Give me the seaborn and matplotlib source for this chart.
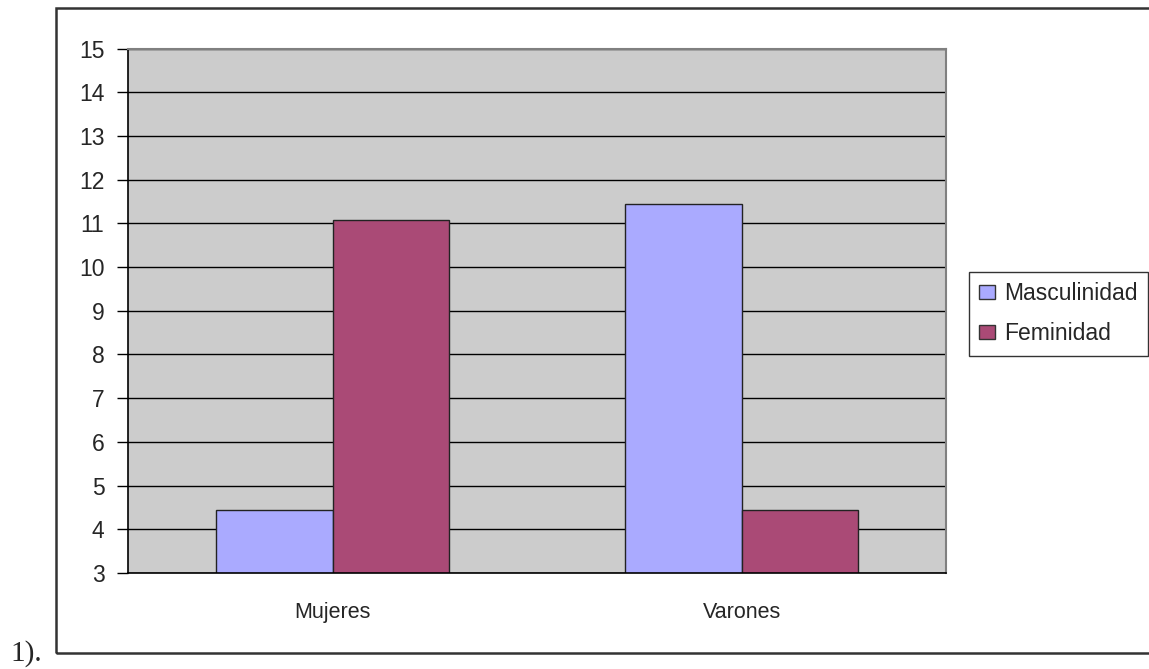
import matplotlib
matplotlib.use("Agg")
import matplotlib.pyplot as plt
import matplotlib.patches as mpatches
import pandas as pd
import seaborn as sns

categorias = ["Mujeres", "Varones"]
masculinidad = [4.45, 11.44]
feminidad = [11.08, 4.45]
series = ["Masculinidad", "Feminidad"]
colores = ["#aaaaff", "#aa4a76"]
yticks = list(range(3, 16))

df = pd.DataFrame({
    "grupo": categorias * 2,
    "rasgo": [series[0]] * 2 + [series[1]] * 2,
    "valor": masculinidad + feminidad,
})

sns.set_style("white")
plt.rcParams["font.family"] = ["Liberation Sans", "DejaVu Sans"]

fig = plt.figure(figsize=(11.49, 6.69), dpi=100)
ax = fig.add_axes([0.1114, 0.1435, 0.712, 0.784])

sns.barplot(data=df, x="grupo", y="valor", hue="rasgo", order=categorias,
            hue_order=series, palette=colores, width=0.57, errorbar=None,
            edgecolor="#222222", linewidth=1.0, saturation=1, ax=ax)

ax.set_facecolor("#cccccc")
ax.set_ylim(3, 15)
ax.set_xlim(-0.5, 1.5)
ax.set_yticks(yticks)
ax.yaxis.grid(True, color="black", linewidth=1.0)
ax.set_axisbelow(True)
ax.set_xlabel("")
ax.set_ylabel("")

ax.set_xticks([-0.5, 0.5, 1.5], minor=True)
ax.tick_params(axis="x", which="major", length=0, pad=21, labelsize=15.5)
ax.tick_params(axis="x", which="minor", length=7, width=1, color="#555555", direction="out")
ax.tick_params(axis="y", length=8, width=1, color="black", direction="out", pad=9, labelsize=16.5, left=True)

for side in ["left", "bottom"]:
    ax.spines[side].set_color("black")
    ax.spines[side].set_linewidth(1.2)
for side in ["top", "right"]:
    ax.spines[side].set_color("#808080")
    ax.spines[side].set_linewidth(1.5)

ax.get_legend().remove()
handles = [mpatches.Patch(facecolor=c, edgecolor="#333333", linewidth=1) for c in colores]
leg = fig.legend(handles, series, loc="upper left", bbox_to_anchor=(969 / 1149, 1 - 272 / 669),
                 fontsize=16.5, frameon=True, fancybox=False, handlelength=0.7,
                 handleheight=0.55, handletextpad=0.4, borderpad=0.45, labelspacing=0.75,
                 borderaxespad=0)
leg.get_frame().set_edgecolor("black")
leg.get_frame().set_linewidth(1.0)

# marco exterior del grafico
marco = mpatches.Rectangle((56 / 1149, 1 - 653 / 669), 1.0, (653 - 8) / 669,
                           transform=fig.transFigure, fill=False,
                           edgecolor="#333333", linewidth=1.8)
fig.patches.append(marco)

fig.text(10 / 1149, 1 - 661 / 669, "1).", fontsize=21,
         family=["Liberation Serif", "DejaVu Serif"], va="baseline")

fig.savefig("out.png", dpi=100)
